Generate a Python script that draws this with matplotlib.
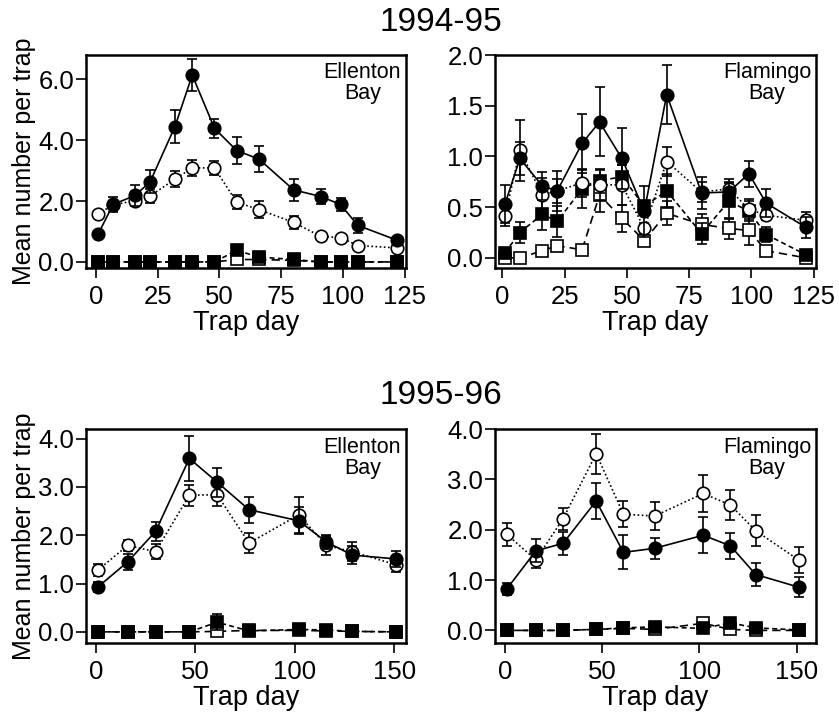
import numpy as np
import matplotlib
matplotlib.use("Agg")
from matplotlib import pyplot as plt

plt.rcParams['font.family'] = ['Liberation Sans', 'DejaVu Sans']

# trap days
days_9495 = [1, 7, 16, 22, 32, 39, 48, 57, 66, 80, 91, 99, 106, 122]
days_9596 = [1, 16, 30, 47, 61, 77, 102, 116, 129, 151]

# 1994-95 Ellenton Bay
ell94_fc = [0.93, 1.89, 2.19, 2.64, 4.45, 6.14, 4.39, 3.66, 3.38, 2.37, 2.15, 1.89, 1.20, 0.71]
ell94_fc_err = [0.05, 0.25, 0.35, 0.37, 0.53, 0.52, 0.32, 0.43, 0.44, 0.37, 0.25, 0.20, 0.25, 0.05]
ell94_oc = [1.58, 1.88, 2.01, 2.17, 2.72, 3.09, 3.09, 1.96, 1.72, 1.30, 0.84, 0.80, 0.54, 0.46]
ell94_oc_err = [0.05, 0.10, 0.15, 0.23, 0.26, 0.27, 0.24, 0.23, 0.27, 0.22, 0.05, 0.05, 0.05, 0.05]
ell94_fs = [0, 0, 0, 0, 0, 0, 0, 0.38, 0.16, 0.08, 0, 0, 0, 0]
ell94_fs_err = [0, 0, 0, 0, 0, 0, 0, 0.05, 0.03, 0.02, 0, 0, 0, 0]
ell94_os = [0, 0, 0, 0, 0, 0, 0, 0.08, 0.08, 0.05, 0, 0, 0, 0]
ell94_os_err = [0, 0, 0, 0, 0, 0, 0, 0.02, 0.02, 0.02, 0, 0, 0, 0]

# 1994-95 Flamingo Bay
fla94_fc = [0.53, 0.98, 0.71, 0.66, 1.13, 1.34, 0.98, 0.46, 1.61, 0.64, 0.65, 0.83, 0.54, 0.30]
fla94_fc_err = [0.19, 0.16, 0.14, 0.20, 0.29, 0.34, 0.30, 0.25, 0.29, 0.16, 0.10, 0.13, 0.14, 0.10]
fla94_oc = [0.41, 1.06, 0.62, 0.66, 0.74, 0.72, 0.72, 0.29, 0.95, 0.65, 0.68, 0.48, 0.42, 0.37]
fla94_oc_err = [0.10, 0.30, 0.17, 0.12, 0.14, 0.15, 0.20, 0.05, 0.14, 0.10, 0.10, 0.10, 0.05, 0.08]
fla94_fs = [0.05, 0.25, 0.43, 0.36, 0.68, 0.76, 0.80, 0.51, 0.66, 0.24, 0.56, 0.46, 0.23, 0.03]
fla94_fs_err = [0.02, 0.10, 0.16, 0.15, 0.19, 0.12, 0.12, 0.05, 0.17, 0.10, 0.18, 0.10, 0.07, 0.02]
fla94_os = [0.00, 0.00, 0.07, 0.12, 0.08, 0.62, 0.39, 0.17, 0.44, 0.33, 0.29, 0.27, 0.07, 0.00]
fla94_os_err = [0, 0, 0.02, 0.02, 0.02, 0.17, 0.13, 0.05, 0.12, 0.10, 0.10, 0.14, 0.02, 0]

# 1995-96 Ellenton Bay
ell95_fc = [0.93, 1.45, 2.08, 3.59, 3.10, 2.53, 2.30, 1.86, 1.59, 1.51]
ell95_fc_err = [0.10, 0.16, 0.20, 0.47, 0.30, 0.27, 0.28, 0.15, 0.18, 0.16]
ell95_oc = [1.28, 1.79, 1.66, 2.83, 2.84, 1.84, 2.42, 1.79, 1.66, 1.39]
ell95_oc_err = [0.12, 0.12, 0.15, 0.22, 0.24, 0.20, 0.38, 0.20, 0.20, 0.15]
ell95_fs = [0, 0, 0, 0, 0.20, 0.02, 0.05, 0.04, 0.01, 0]
ell95_fs_err = [0, 0, 0, 0, 0.16, 0.02, 0.02, 0.02, 0.01, 0]
ell95_os = [0, 0, 0, 0, 0.01, 0.03, 0.03, 0.02, 0.01, 0]
ell95_os_err = [0, 0, 0, 0, 0.01, 0.01, 0.01, 0.01, 0.01, 0]

# 1995-96 Flamingo Bay
fla95_fc = [0.82, 1.58, 1.73, 2.57, 1.55, 1.63, 1.89, 1.68, 1.11, 0.86]
fla95_fc_err = [0.12, 0.23, 0.23, 0.36, 0.34, 0.21, 0.36, 0.26, 0.22, 0.20]
fla95_oc = [1.91, 1.40, 2.22, 3.51, 2.31, 2.27, 2.72, 2.49, 1.98, 1.40]
fla95_oc_err = [0.23, 0.17, 0.22, 0.40, 0.26, 0.28, 0.37, 0.29, 0.31, 0.26]
fla95_fs = [0, 0, 0, 0.02, 0.05, 0.07, 0.04, 0.15, 0.05, 0.01]
fla95_fs_err = [0, 0, 0, 0.01, 0.02, 0.02, 0.02, 0.03, 0.02, 0.01]
fla95_os = [0, 0, 0, 0.02, 0.04, 0.02, 0.14, 0.02, 0.00, 0.00]
fla95_os_err = [0, 0, 0, 0.01, 0.02, 0.01, 0.03, 0.01, 0, 0]


def draw_panel(ax, days, fc, fc_err, oc, oc_err, fs, fs_err, os_, os_err,
               site, xlim, ylim, xticks, yticks):
    eb = dict(ecolor='black', elinewidth=1.2, capsize=3.5, capthick=1.2,
              color='black', lw=1.2, mec='black', mew=1.2)
    ax.errorbar(days, os_, yerr=os_err, marker='s', ms=8, mfc='white',
                ls=(0, (5, 3)), zorder=2, **eb)
    ax.errorbar(days, fs, yerr=fs_err, marker='s', ms=8, mfc='black',
                ls=(0, (3, 2)), zorder=3, **eb)
    ax.errorbar(days, oc, yerr=oc_err, marker='o', ms=9, mfc='white',
                ls=(0, (1, 1.5)), zorder=4, **eb)
    ax.errorbar(days, fc, yerr=fc_err, marker='o', ms=9, mfc='black',
                ls='-', zorder=5, **eb)

    ax.set_xlim(*xlim)
    ax.set_ylim(*ylim)
    ax.set_xticks(xticks)
    ax.set_yticks(yticks)
    ax.set_yticklabels(['%.1f' % v for v in yticks])
    ax.tick_params(direction='out', length=7, width=1.2, labelsize=18.5)
    ax.tick_params(axis='x', pad=5)
    ax.tick_params(axis='y', pad=1.5)
    for s in ax.spines.values():
        s.set_linewidth(1.8)
    ax.set_xlabel('Trap day', fontsize=19.5, labelpad=1)
    ax.text(0.985, 0.965, site, transform=ax.transAxes, ha='right', va='top',
            multialignment='center', fontsize=15.5, linespacing=1.0)


fig = plt.figure(figsize=(8.39, 7.13), dpi=100)
ax1 = fig.add_axes([0.1025, 0.6241, 0.3814, 0.2987])
ax2 = fig.add_axes([0.590, 0.6241, 0.3826, 0.2987])
ax3 = fig.add_axes([0.1025, 0.0982, 0.3814, 0.3001])
ax4 = fig.add_axes([0.590, 0.0982, 0.3826, 0.3001])

draw_panel(ax1, days_9495, ell94_fc, ell94_fc_err, ell94_oc, ell94_oc_err,
           ell94_fs, ell94_fs_err, ell94_os, ell94_os_err,
           'Ellenton\nBay', (-4, 125.5), (-0.2, 6.8),
           [0, 25, 50, 75, 100, 125], [0, 2, 4, 6])
draw_panel(ax2, days_9495, fla94_fc, fla94_fc_err, fla94_oc, fla94_oc_err,
           fla94_fs, fla94_fs_err, fla94_os, fla94_os_err,
           'Flamingo\nBay', (-3, 126), (-0.1, 2.0),
           [0, 25, 50, 75, 100, 125], [0, 0.5, 1.0, 1.5, 2.0])
draw_panel(ax3, days_9596, ell95_fc, ell95_fc_err, ell95_oc, ell95_oc_err,
           ell95_fs, ell95_fs_err, ell95_os, ell95_os_err,
           'Ellenton\nBay', (-5, 156), (-0.23, 4.2),
           [0, 50, 100, 150], [0, 1, 2, 3, 4])
draw_panel(ax4, days_9596, fla95_fc, fla95_fc_err, fla95_oc, fla95_oc_err,
           fla95_fs, fla95_fs_err, fla95_os, fla95_os_err,
           'Flamingo\nBay', (-5, 160), (-0.25, 4.0),
           [0, 50, 100, 150], [0, 1, 2, 3, 4])

for ax in (ax1, ax3):
    ax.set_ylabel('Mean number per trap', fontsize=18, labelpad=2)

fig.text(0.525, 0.969, '1994-95', ha='center', va='center', fontsize=24)
fig.text(0.525, 0.446, '1995-96', ha='center', va='center', fontsize=24)

fig.savefig('out.png', dpi=100)
